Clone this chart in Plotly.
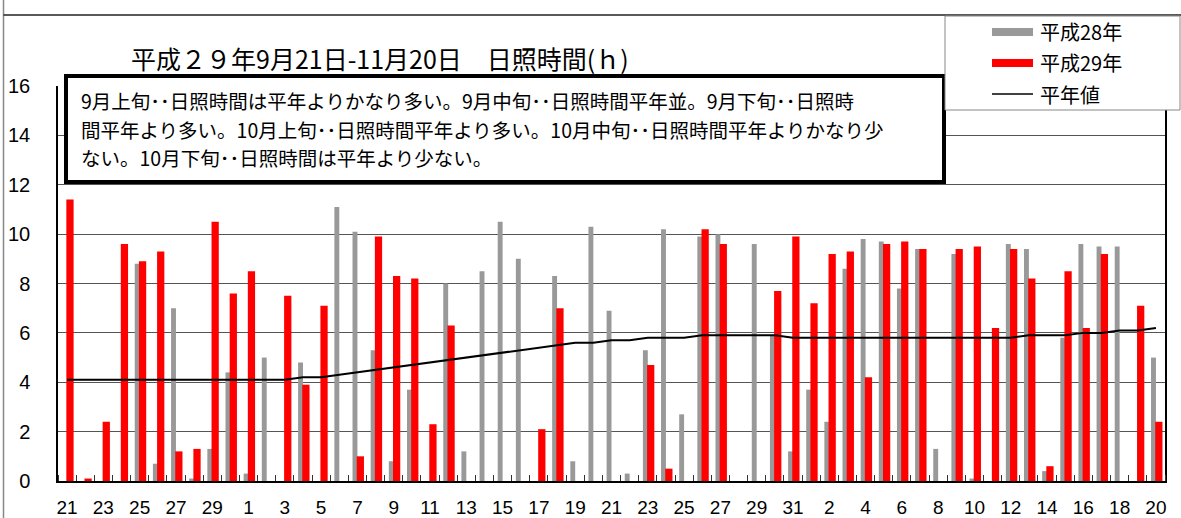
import plotly.graph_objects as go

# ---- data ----
day_numbers = list(range(21, 31)) + list(range(1, 32)) + list(range(1, 21))

h28 = [0, 0, 0, 0, 8.8, 0.7, 7.0, 0.1, 1.3, 4.4,
       0.3, 5.0, 0, 4.8, 0, 11.1, 10.1, 5.3, 0.8, 3.7,
       0, 8.0, 1.2, 8.5, 10.5, 9.0, 0, 8.3, 0.8, 10.3,
       6.9, 0.3, 5.3, 10.2, 2.7, 9.9, 10.0, 0, 9.6, 5.9,
       1.2,
       3.7, 2.4, 8.6, 9.8, 9.7, 7.8, 9.4, 1.3, 9.2, 0.1,
       0, 9.6, 9.4, 0.4, 5.8, 9.6, 9.5, 9.5, 0, 5.0]

h29 = [11.4, 0.1, 2.4, 9.6, 8.9, 9.3, 1.2, 1.3, 10.5, 7.6,
       8.5, 0, 7.5, 3.9, 7.1, 0, 1.0, 9.9, 8.3, 8.2,
       2.3, 6.3, 0, 0, 0, 0, 2.1, 7.0, 0, 0,
       0, 0, 4.7, 0.5, 0, 10.2, 9.6, 0, 0, 7.7,
       9.9,
       7.2, 9.2, 9.3, 4.2, 9.6, 9.7, 9.4, 0, 9.4, 9.5,
       6.2, 9.4, 8.2, 0.6, 8.5, 6.2, 9.2, 0, 7.1, 2.4]

normal = [4.1, 4.1, 4.1, 4.1, 4.1, 4.1, 4.1, 4.1, 4.1, 4.1,
          4.1, 4.1, 4.1, 4.2, 4.2, 4.3, 4.4, 4.5, 4.6, 4.7,
          4.8, 4.9, 5.0, 5.1, 5.2, 5.3, 5.4, 5.5, 5.6, 5.6,
          5.7, 5.7, 5.8, 5.8, 5.8, 5.9, 5.9, 5.9, 5.9, 5.9,
          5.8,
          5.8, 5.8, 5.8, 5.8, 5.8, 5.8, 5.8, 5.8, 5.8, 5.8,
          5.8, 5.8, 5.9, 5.9, 5.9, 6.0, 6.0, 6.1, 6.1, 6.2]

series_names = ["平成28年", "平成29年", "平年値"]
title_text = "平成２９年9月21日-11月20日　日照時間(ｈ)"
note_lines = [
    "9月上旬･･日照時間は平年よりかなり多い。9月中旬･･日照時間平年並。9月下旬･･日照時",
    "間平年より多い。10月上旬･･日照時間平年より多い。10月中旬･･日照時間平年よりかなり少",
    "ない。10月下旬･･日照時間は平年より少ない。",
]
y_ticks = [0, 2, 4, 6, 8, 10, 12, 14, 16]

x = list(range(len(day_numbers)))
tick_idx = x[::2]
tick_txt = [str(day_numbers[i]) for i in tick_idx]

GRAY = "#999999"
RED = "#ff0000"
JP = "Noto Sans CJK JP"
NUM = "Liberation Sans, Arial, sans-serif"

fig = go.Figure()
fig.add_trace(go.Bar(x=x, y=h28, name=series_names[0], marker=dict(color=GRAY, line=dict(width=0)),
                     width=0.27, offset=-0.27, showlegend=False))
fig.add_trace(go.Bar(x=x, y=h29, name=series_names[1], marker=dict(color=RED, line=dict(width=0)),
                     width=0.40, offset=-0.04, showlegend=False))
fig.add_trace(go.Scatter(x=x, y=normal, name=series_names[2], mode="lines",
                         line=dict(color="black", width=2), showlegend=False))

W, H = 1181, 518
ml, mr, mt, mb = 58, 16, 86, 37
pw, ph = W - ml - mr, H - mt - mb


def px(v):
    return (v - ml) / pw


def py(v):
    return (H - mb - v) / ph


shapes = []
# outer frame lines
shapes.append(dict(type="line", xref="paper", yref="paper", x0=px(3.5), x1=px(3.5), y0=py(0), y1=py(H),
                   line=dict(color="#888888", width=1.5), layer="above"))
shapes.append(dict(type="line", xref="paper", yref="paper", x0=px(3.5), x1=px(W), y0=py(15), y1=py(15),
                   line=dict(color="#222222", width=1.5), layer="above"))
# note box
shapes.append(dict(type="rect", xref="paper", yref="paper", x0=px(66), x1=px(944), y0=py(76), y1=py(182),
                   fillcolor="white", line=dict(color="black", width=4), layer="above"))
# legend box
shapes.append(dict(type="rect", xref="paper", yref="paper", x0=px(945), x1=px(1180), y0=py(16), y1=py(110),
                   fillcolor="white", line=dict(color="#888888", width=1), layer="above"))
# legend symbols
shapes.append(dict(type="rect", xref="paper", yref="paper", x0=px(992), x1=px(1033), y0=py(28), y1=py(36),
                   fillcolor=GRAY, line=dict(width=0), layer="above"))
shapes.append(dict(type="rect", xref="paper", yref="paper", x0=px(992), x1=px(1033), y0=py(59), y1=py(67),
                   fillcolor=RED, line=dict(width=0), layer="above"))
shapes.append(dict(type="line", xref="paper", yref="paper", x0=px(992), x1=px(1033), y0=py(94), y1=py(94),
                   line=dict(color="black", width=1.5), layer="above"))

annotations = []
annotations.append(dict(text=title_text, xref="paper", yref="paper", x=px(380), y=py(58),
                        xanchor="center", yanchor="middle", showarrow=False,
                        font=dict(family=JP, size=25, color="black")))
for i, t in enumerate(note_lines):
    annotations.append(dict(text=t, xref="paper", yref="paper", x=px(79), y=py(100.5 + 28.5 * i),
                            xanchor="left", yanchor="middle", align="left", showarrow=False,
                            font=dict(family=JP, size=19.5, color="black")))
for i, nm in enumerate(series_names):
    annotations.append(dict(text=nm, xref="paper", yref="paper", x=px(1038), y=py(32 + 31 * i),
                            xanchor="left", yanchor="middle", showarrow=False,
                            font=dict(family=JP, size=20, color="black")))

fig.update_layout(
    width=W, height=H,
    margin=dict(l=ml, r=mr, t=mt, b=mb, pad=0, autoexpand=False),
    paper_bgcolor="white", plot_bgcolor="white",
    barmode="overlay",
    shapes=shapes, annotations=annotations,
    showlegend=False,
)
fig.update_xaxes(range=[-0.5, len(x) - 0.5], tickmode="array", tickvals=tick_idx, ticktext=tick_txt,
                 ticks="", showgrid=False, showline=True, linecolor="black", linewidth=1.5,
                 tickfont=dict(family=NUM, size=19, color="black"), ticklabelstandoff=8,
                 minor=dict(tickmode="linear", tick0=-0.5, dtick=1, ticks="inside", ticklen=6,
                            tickcolor="#333333", showgrid=False),
                 zeroline=False, automargin=False)
fig.update_yaxes(range=[0, 16], tickmode="array", tickvals=y_ticks, ticks="",
                 showgrid=True, gridcolor="#555555", gridwidth=1,
                 showline=True, linecolor="black", linewidth=1.5, mirror=True,
                 tickfont=dict(family=NUM, size=20, color="black"), ticklabelstandoff=22,
                 zeroline=False, automargin=False)

fig.write_html("out.html", config={"displayModeBar": False},
               post_script="document.body.style.margin='0';document.body.style.overflow='hidden';")
